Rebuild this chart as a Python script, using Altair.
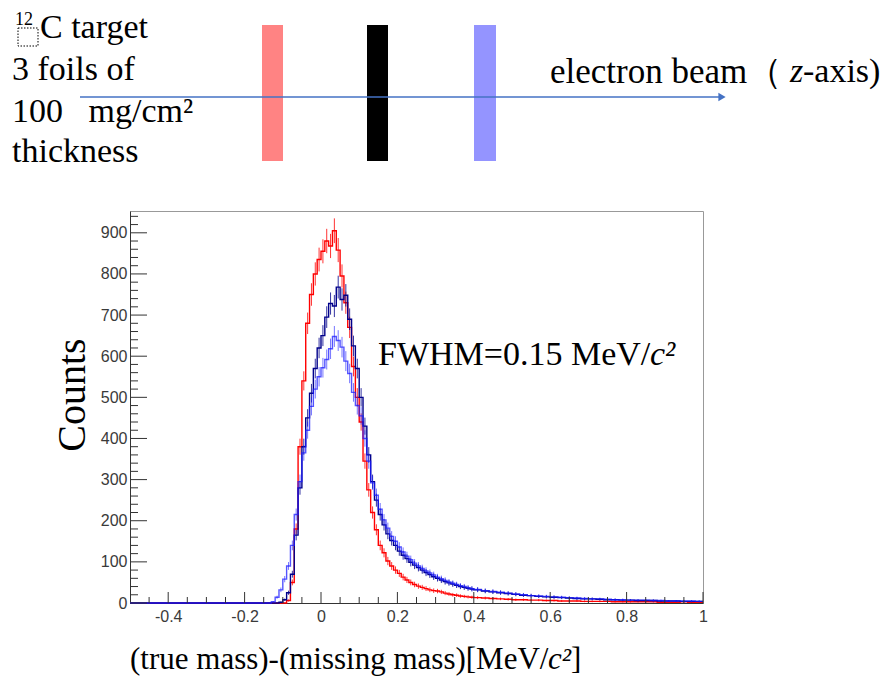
import altair as alt
import pandas as pd
import numpy as np

W, H = 573, 392
X_MIN, X_MAX = -0.5, 1.0
Y_MAX = 953

FINE_START, FINE_W = -0.14, 0.01     # bins -0.14 .. 0.40
COARSE_START, COARSE_W = 0.40, 0.02  # bins 0.40 .. 1.00

red_fine = [0, 0, 0, 0, 0, 6, 50, 180, 380, 540, 680, 750, 800, 835,
            855, 880, 868, 905, 858, 795, 730, 670, 575, 500,
            440, 345, 275, 220, 178, 140, 122, 102, 90, 80,
            72, 63, 56, 50, 45, 41, 38, 35, 32, 30,
            29, 27, 24, 22, 20, 19, 17, 16, 15, 14]
red_coarse = [13, 12, 11, 10, 9, 8, 8, 7, 7, 6, 6, 5, 5, 5, 4,
              4, 4, 4, 3, 3, 3, 3, 3, 3, 2, 2, 2, 3, 2, 2]

navy_fine = [0, 0, 0, 2, 8, 25, 70, 165, 280, 380, 450, 510, 570, 620,
             650, 695, 728, 722, 768, 738, 748, 690, 625, 570,
             500, 430, 360, 295, 250, 215, 190, 168, 152, 140,
             126, 116, 108, 99, 92, 86, 80, 74, 69, 64,
             60, 56, 52, 49, 46, 43, 40, 38, 36, 34]
navy_coarse = [32, 29, 27, 25, 23, 21, 19, 18, 16, 15, 14, 13, 12, 11, 10,
               10, 9, 8, 8, 7, 7, 6, 6, 6, 5, 5, 5, 4, 4, 4]

blue_fine = [0, 3, 14, 32, 58, 90, 140, 215, 295, 365, 420, 478, 520, 550,
             572, 592, 618, 648, 638, 622, 588, 558, 512, 480,
             455, 400, 345, 292, 262, 228, 202, 182, 162, 150,
             136, 124, 114, 105, 97, 90, 84, 78, 73, 68,
             63, 59, 55, 51, 48, 45, 42, 40, 37, 35]
blue_coarse = [33, 30, 28, 26, 24, 22, 20, 18, 17, 16, 15, 14, 13, 12, 11,
               10, 10, 9, 8, 8, 7, 7, 7, 6, 6, 5, 5, 5, 5, 4]

x_major = [-0.4, -0.2, 0.0, 0.2, 0.4, 0.6, 0.8, 1.0]
x_minor = [-0.45, -0.35, -0.3, -0.25, -0.15, -0.1, -0.05, 0.05, 0.1, 0.15,
           0.25, 0.3, 0.35, 0.45, 0.5, 0.55, 0.65, 0.7, 0.75, 0.85, 0.9, 0.95]
y_major = [0, 100, 200, 300, 400, 500, 600, 700, 800, 900]
y_minor = [20, 40, 60, 80, 120, 140, 160, 180, 220, 240, 260, 280, 320, 340,
           360, 380, 420, 440, 460, 480, 520, 540, 560, 580, 620, 640, 660,
           680, 720, 740, 760, 780, 820, 840, 860, 880, 920, 940]


def build(fine, coarse):
    edges_f = [round(FINE_START + i * FINE_W, 4) for i in range(len(fine))]
    edges_c = [round(COARSE_START + i * COARSE_W, 4) for i in range(len(coarse))]
    xs_ = [X_MIN] + edges_f + edges_c + [X_MAX]
    ys_ = [0] + fine + coarse + [coarse[-1]]
    line = pd.DataFrame({"x": xs_, "n": ys_})
    cent = [e + FINE_W / 2 for e in edges_f] + [e + COARSE_W / 2 for e in edges_c]
    cnt = np.array(fine + coarse, dtype=float)
    err = pd.DataFrame({"x": cent, "lo": cnt - np.sqrt(cnt), "hi": cnt + np.sqrt(cnt), "n": cnt})
    err = err[err["n"] > 0]
    return line, err


xs = alt.Scale(domain=[X_MIN, X_MAX], nice=False, zero=False)
ys = alt.Scale(domain=[0, Y_MAX], nice=False, zero=True)

label_expr = "replace(format(datum.value, '~g'), '\u2212', '-')"
x_axis = alt.Axis(values=x_major, labelExpr=label_expr, ticks=False, tickSize=0,
                  grid=False, title=None, domainColor="#333", labelFont="Liberation Sans",
                  labelFontSize=16, labelColor="#3a3a3a", labelPadding=5, labelFlush=False,
                  labelOverlap=False)
y_axis = alt.Axis(values=y_major, ticks=False, tickSize=0, grid=False, title=None,
                  domainColor="#333", labelFont="Liberation Sans", labelFontSize=16,
                  labelColor="#3a3a3a", labelPadding=3, labelOverlap=False)


def X(field):
    return alt.X(field, scale=xs, axis=x_axis)


def Y(field):
    return alt.Y(field, scale=ys, axis=y_axis)


series = [("red", red_fine, red_coarse, "#ff0000", 1.0),
          ("navy", navy_fine, navy_coarse, "#00008b", 1.0),
          ("blue", blue_fine, blue_coarse, "#1a1aff", 0.75)]

layers = []
for name, f, c, col, op in series:
    line_df, err_df = build(f, c)
    layers.append(alt.Chart(line_df).mark_line(interpolate="step-after", color=col,
                                               strokeWidth=1.4, opacity=op).encode(
        x=X("x:Q"), y=Y("n:Q")))
    layers.append(alt.Chart(err_df).mark_rule(color=col, strokeWidth=1, opacity=op * 0.8).encode(
        x=X("x:Q"), y=Y("lo:Q"), y2="hi:Q"))

# inward ticks (ROOT style)
tick_col = "#333"
layers.append(alt.Chart(pd.DataFrame({"v": y_major})).mark_rule(color=tick_col).encode(
    y=Y("v:Q"), x=alt.value(0), x2=alt.value(17)))
layers.append(alt.Chart(pd.DataFrame({"v": y_minor})).mark_rule(color=tick_col).encode(
    y=Y("v:Q"), x=alt.value(0), x2=alt.value(8)))
layers.append(alt.Chart(pd.DataFrame({"v": x_major})).mark_rule(color=tick_col).encode(
    x=X("v:Q"), y=alt.value(H), y2=alt.value(H - 11)))
layers.append(alt.Chart(pd.DataFrame({"v": x_minor})).mark_rule(color=tick_col).encode(
    x=X("v:Q"), y=alt.value(H), y2=alt.value(H - 6)))

one = pd.DataFrame({"k": [0]})
SERIF = "Liberation Serif"


def txt(t, x, y, size=34, style="normal", align="left", angle=0):
    kw = dict(text=t, font=SERIF, fontSize=size, fontStyle=style, align=align,
              baseline="middle", color="black")
    if angle:
        kw["angle"] = angle
    return alt.Chart(one).mark_text(**kw).encode(x=alt.value(x), y=alt.value(y))


# target foils diagram
foils = [(132, 153, "#ff8383"), (237, 258, "#000000"), (344, 366, "#9494ff")]
for x0, x1, col in foils:
    layers.append(alt.Chart(one).mark_rect(color=col).encode(
        x=alt.value(x0), x2=alt.value(x1), y=alt.value(-186), y2=alt.value(-50)))
layers.append(alt.Chart(one).mark_rule(color="#4472c4", strokeWidth=1.5).encode(
    x=alt.value(-50), x2=alt.value(590), y=alt.value(-114)))
layers.append(alt.Chart(one).mark_point(shape="triangle-right", filled=True, size=70,
                                        color="#4472c4", opacity=1).encode(
    x=alt.value(592), y=alt.value(-114)))

layers += [
    txt("12", -115, -191, size=18),
    txt("C target", -90, -183),
    txt("3 foils of", -118, -141),
    txt("100\u00a0\u00a0 mg/cm\u00b2", -118, -99),
    txt("thickness", -118, -59),
    txt("electron beam\uff08", 420, -139, size=35),
    txt("z", 660, -139, style="italic"),
    txt("-axis)", 673, -139),
    txt("FWHM=0.15 MeV/", 248, 144),
    txt("c\u00b2", 520, 144, style="italic"),
    txt("(true mass)-(missing mass)[MeV/", 0, 449, size=31),
    txt("c\u00b2", 418, 449, size=31, style="italic"),
    txt("]", 441, 449, size=31),
    txt("Counts", -57, 184, size=40, align="center", angle=270),
]
layers.append(alt.Chart(one).mark_rect(filled=False, stroke="black", strokeWidth=1,
                                       strokeDash=[1.5, 1.5]).encode(
    x=alt.value(-112), x2=alt.value(-92), y=alt.value(-183), y2=alt.value(-165)))

chart = alt.layer(*layers).properties(
    width=W, height=H, autosize="none",
    padding={"left": 122, "top": 203, "right": 178, "bottom": 78},
    background="white",
).configure_view(stroke="#999", strokeWidth=1)

chart.save("out.html", embed_options={"renderer": "svg", "actions": False})
